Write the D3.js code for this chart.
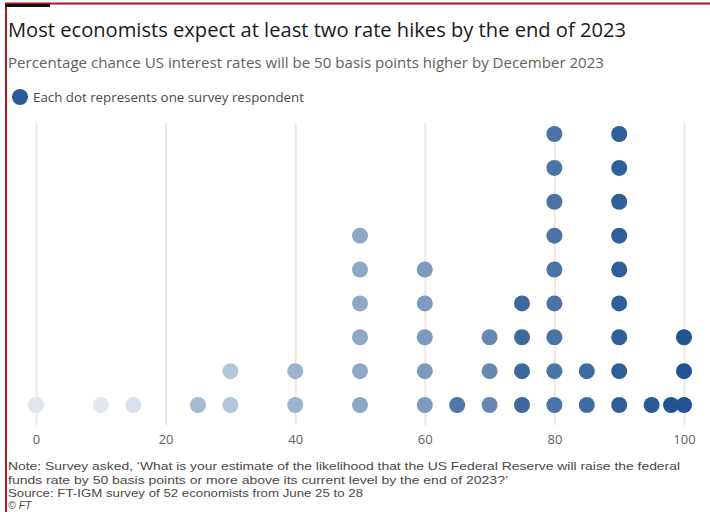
<!DOCTYPE html>
<html>
<head>
<meta charset="utf-8">
<script src="https://cdn.jsdelivr.net/npm/d3@7"></script>
<style>
  html, body { margin: 0; padding: 0; background: #fff; }
  svg { display: block; }
  text { font-family: "Open Sans", "Noto Sans", sans-serif; }
</style>
</head>
<body>
<svg id="chart" width="710" height="512"></svg>
<script>
// ---- Data ----
const probabilities = [0, 10, 15, 25, 30, 40, 50, 60, 65, 70, 75, 80, 85, 90, 95, 98, 100];
const respondents   = [1, 1, 1, 1, 2, 2, 6, 5, 1, 3, 4, 9, 2, 9, 1, 1, 3];
const tickValues    = [0, 20, 40, 60, 80, 100];
const dotColours    = ["#dfe6ef", "#e1e8f0", "#d9e2ec", "#a5bbd3", "#b3c6d9", "#9db3cc", "#8ea8c5",
                       "#7c9bbf", "#4f78a7", "#6688b3", "#3c699e", "#4a74a6", "#3e6ba0", "#2e5f98",
                       "#2b5b95", "#22548f", "#1f5391"];

const titleText    = "Most economists expect at least two rate hikes by the end of 2023";
const subtitleText = "Percentage chance US interest rates will be 50 basis points higher by December 2023";
const legendText   = "Each dot represents one survey respondent";
const noteLines = [
  "Note: Survey asked, \u2018What is your estimate of the likelihood that the US Federal Reserve will raise the federal",
  "funds rate by 50 basis points or more above its current level by the end of 2023?\u2019",
  "Source: FT-IGM survey of 52 economists from June 25 to 28"
];

// ---- Build dots ----
const dots = [];
probabilities.forEach((p, i) => {
  for (let k = 0; k < respondents[i]; k++) dots.push({ p, k, colour: dotColours[i] });
});

const svg = d3.select("#chart");

// frame
svg.append("line").attr("x1", 5).attr("x2", 710).attr("y1", 3.5).attr("y2", 3.5)
  .attr("stroke", "#b0161e").attr("stroke-width", 2);
svg.append("line").attr("x1", 6).attr("x2", 6).attr("y1", 3).attr("y2", 512)
  .attr("stroke", "#b0161e").attr("stroke-width", 2);
svg.append("rect").attr("x", 5).attr("y", 4).attr("width", 45).attr("height", 3).attr("fill", "#111");

// scales
const x = d3.scaleLinear().domain([0, 100]).range([36, 684]);
const y = d3.scaleLinear().domain([0, 8]).range([405, 134]);

// gridlines + axis
const axis = d3.axisBottom(x).tickValues(tickValues).tickSize(-302).tickPadding(10).tickFormat(d3.format("d"));
const gAxis = svg.append("g").attr("transform", "translate(0,425)").call(axis);
gAxis.select(".domain").remove();
gAxis.selectAll(".tick line").attr("stroke", "#efe8e2").attr("stroke-width", 2);
gAxis.selectAll(".tick text").attr("fill", "#66605c").attr("font-size", 13)
  .style("font-family", "'Open Sans', sans-serif");

// dots
svg.append("g").selectAll("circle").data(dots).join("circle")
  .attr("cx", d => x(d.p)).attr("cy", d => y(d.k)).attr("r", 8)
  .attr("fill", d => d.colour);

// title / subtitle
svg.append("text").attr("x", 8).attr("y", 37).text(titleText)
  .attr("font-size", 20).attr("fill", "#1a1a1a")
  .attr("textLength", 618).attr("lengthAdjust", "spacingAndGlyphs");
svg.append("text").attr("x", 8).attr("y", 68).text(subtitleText)
  .attr("font-size", 14.5).attr("fill", "#66605c")
  .attr("textLength", 596).attr("lengthAdjust", "spacingAndGlyphs");

// legend
svg.append("circle").attr("cx", 20).attr("cy", 97).attr("r", 8).attr("fill", "#2b5b95");
svg.append("text").attr("x", 33).attr("y", 102).text(legendText)
  .attr("font-size", 13).attr("fill", "#4d4845")
  .attr("textLength", 271).attr("lengthAdjust", "spacingAndGlyphs");

// notes
const noteWidths = [672, 500, 355];
noteLines.forEach((t, i) => {
  svg.append("text").attr("x", 8).attr("y", 470 + i * 13.5).text(t)
    .style("font-family", "'Liberation Sans', Arial, sans-serif")
    .attr("font-size", 11.5).attr("fill", "#4d4845")
    .attr("textLength", noteWidths[i]).attr("lengthAdjust", "spacingAndGlyphs");
});
svg.append("text").attr("x", 8).attr("y", 508.5).text("\u00a9 FT")
  .style("font-family", "'Liberation Sans', Arial, sans-serif")
  .attr("font-size", 10.5).attr("font-style", "italic").attr("fill", "#4d4845");
</script>
</body>
</html>
